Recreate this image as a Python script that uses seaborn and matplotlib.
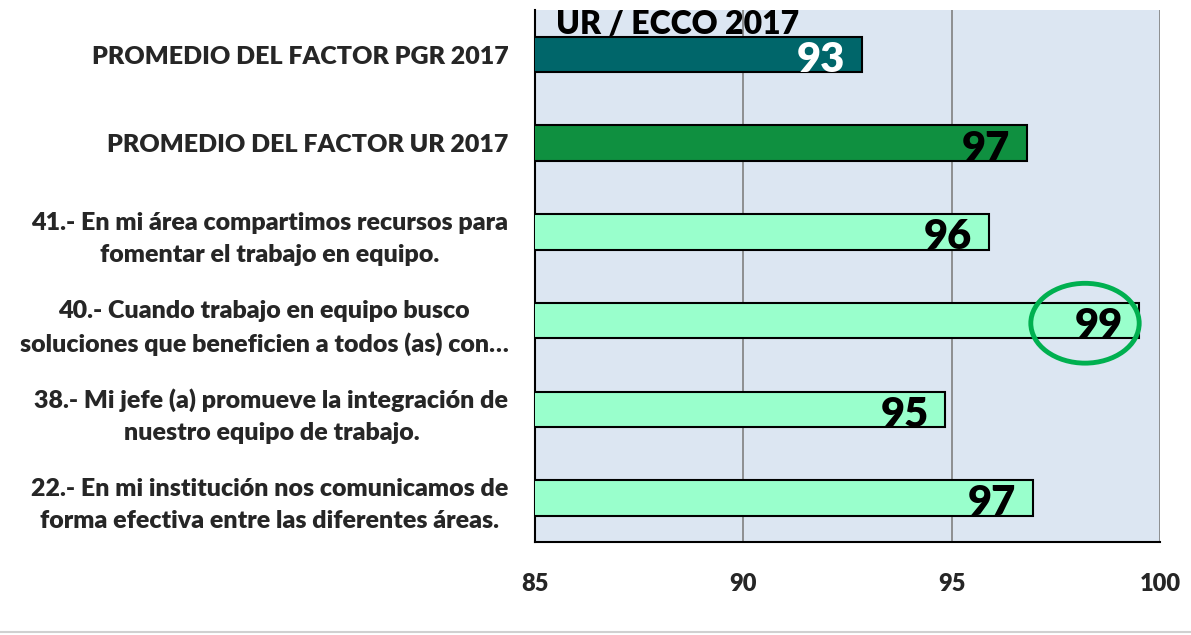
import matplotlib
matplotlib.use("Agg")
import matplotlib.pyplot as plt
import seaborn as sns
import pandas as pd
from matplotlib.patches import Ellipse
from matplotlib.lines import Line2D

# datos
categorias = [
    "PROMEDIO DEL FACTOR PGR 2017",
    "PROMEDIO DEL FACTOR UR 2017",
    "41.- En mi área compartimos recursos para\nfomentar el trabajo en equipo.",
    "40.- Cuando trabajo en equipo busco\nsoluciones que beneficien a todos (as) con…",
    "38.- Mi jefe (a) promueve la integración de\nnuestro equipo de trabajo.",
    "22.- En mi institución nos comunicamos de\nforma efectiva entre las diferentes áreas.",
]
valores = [92.85, 96.8, 95.9, 99.5, 94.85, 96.95]
etiquetas = ["93", "97", "96", "99", "95", "97"]
colores = ["#00666a", "#0f9040", "#99ffcc", "#99ffcc", "#99ffcc", "#99ffcc"]
color_texto = ["white", "black", "black", "black", "black", "black"]
titulo = "UR / ECCO 2017"
xticks = [85, 90, 95, 100]

df = pd.DataFrame({"cat": categorias, "val": valores})

sns.set_style("white")
plt.rcParams["font.family"] = ["Lato", "DejaVu Sans"]

fig = plt.figure(figsize=(11.91, 6.35), dpi=100)
ax = fig.add_axes([0.449, 0.146, 0.525, 0.838])
ax.set_facecolor("#dce6f2")

sns.barplot(data=df, y="cat", x="val", hue="cat", palette=colores, legend=False,
            orient="h", width=0.4, saturation=1, edgecolor="black", linewidth=1.5,
            ax=ax, zorder=3)

ax.set_xlim(85, 100)
ax.set_xticks(xticks)
ax.set_xticklabels([str(t) for t in xticks], fontsize=17, fontweight="heavy")
ax.tick_params(axis="x", length=0, pad=22)
ax.tick_params(axis="y", length=0, pad=19)
for lbl in ax.get_yticklabels():
    lbl.set_fontsize(18)
    lbl.set_fontweight("heavy")
    lbl.set_multialignment("center")
    lbl.set_linespacing(1.55)
ax.set_xlabel("")
ax.set_ylabel("")

for x in [90, 95, 100]:
    ax.axvline(x, color="#808080", linewidth=1.2, zorder=1)

for s in ["top", "right"]:
    ax.spines[s].set_visible(False)
ax.spines["left"].set_color("black")
ax.spines["left"].set_linewidth(1.5)
ax.spines["bottom"].set_color("black")
ax.spines["bottom"].set_linewidth(1.5)

for i, (v, t, c) in enumerate(zip(valores, etiquetas, color_texto)):
    ax.text(v - 0.4, i + 0.06, t, ha="right", va="center", fontsize=30,
            fontweight="heavy", color=c, zorder=5)

ax.text(85.5, -0.34, titulo, ha="left", va="center", fontsize=23,
        fontweight="heavy", color="black", zorder=2)

ax.add_patch(Ellipse((98.2, 3.03), 2.6, 0.9, fill=False, edgecolor="#00b050",
                     linewidth=3.5, zorder=6, clip_on=False))

fig.add_artist(Line2D([0, 1], [0.005, 0.005], color="#d0d0d0", linewidth=1.5))

fig.savefig("out.png", dpi=100)
